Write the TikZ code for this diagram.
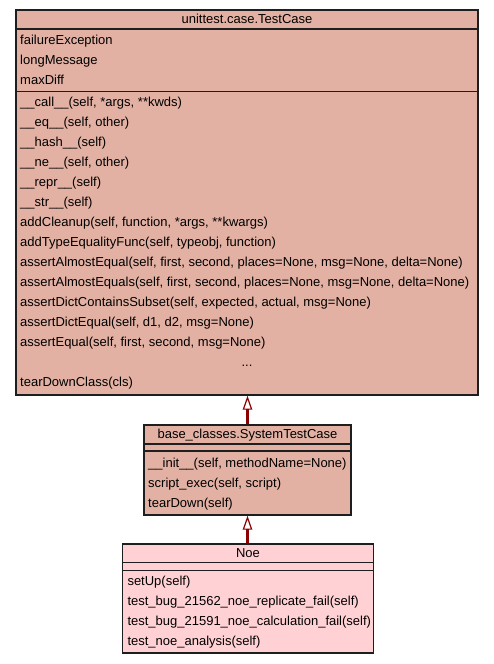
\documentclass[tikz,border=0pt]{standalone}
\usepackage{fontspec}
\setmainfont{Liberation Sans}
\usetikzlibrary{arrows.meta}

\definecolor{basefill}{RGB}{227,177,163}
\definecolor{leaffill}{RGB}{255,209,212}
\definecolor{inheritred}{RGB}{139,0,0}
\definecolor{edgegrey}{RGB}{30,30,30}

\tikzset{
  classbox/.style={draw=edgegrey,line width=1.4pt,rectangle,inner sep=0pt},
  member/.style={anchor=base west,inner sep=0pt,font=\fontsize{13}{15}\selectfont},
  classname/.style={anchor=base,inner sep=0pt,font=\fontsize{13}{15}\selectfont},
  inherit/.style={draw=inheritred,line width=3pt,
    -{Triangle[open,length=14pt,width=9.5pt,line width=1.2pt]}}
}

\begin{document}
\begin{tikzpicture}[x=1pt,y=-1pt]
			\useasboundingbox (0,0) rectangle (493,664);
			% unittest.case.TestCase
			\node[classbox,fill=basefill,minimum width=462pt,minimum height=385pt] (testcase) at (247,202.5){};
			\draw[edgegrey,line width=1.4pt] (testcase.west |- 0,29) -- (testcase.east |- 0,29);
			\draw[edgegrey,line width=1.4pt] (testcase.west |- 0,91.5) -- (testcase.east |- 0,91.5);
			\node[classname] (tc-name) at (247,23.5){unittest.case.TestCase};
			\node[member] (tc-a1) at (20,44){failureException};
			\node[member] (tc-a2) at (20,64){longMessage};
			\node[member] (tc-a3) at (20,84){maxDiff};
			\node[member] (tc-m1) at (20,106){\_\_call\_\_(self, *args, **kwds)};
			\node[member] (tc-m2) at (20,126){\_\_eq\_\_(self, other)};
			\node[member] (tc-m3) at (20,146){\_\_hash\_\_(self)};
			\node[member] (tc-m4) at (20,166){\_\_ne\_\_(self, other)};
			\node[member] (tc-m5) at (20,186){\_\_repr\_\_(self)};
			\node[member] (tc-m6) at (20,206){\_\_str\_\_(self)};
			\node[member] (tc-m7) at (20,226){addCleanup(self, function, *args, **kwargs)};
			\node[member] (tc-m8) at (20,246){addTypeEqualityFunc(self, typeobj, function)};
			\node[member] (tc-m9) at (20,266){assertAlmostEqual(self, first, second, places=None, msg=None, delta=None)};
			\node[member] (tc-m10) at (20,286){assertAlmostEquals(self, first, second, places=None, msg=None, delta=None)};
			\node[member] (tc-m11) at (20,306){assertDictContainsSubset(self, expected, actual, msg=None)};
			\node[member] (tc-m12) at (20,326){assertDictEqual(self, d1, d2, msg=None)};
			\node[member] (tc-m13) at (20,346){assertEqual(self, first, second, msg=None)};
			\node[classname] (tc-more) at (247,366){...};
			\node[member] (tc-m14) at (20,386){tearDownClass(cls)};
			% base_classes.SystemTestCase
			\node[classbox,fill=basefill,minimum width=207pt,minimum height=90pt] (systest) at (247.5,470){};
			\draw[edgegrey,line width=1.4pt] (systest.west |- 0,444) -- (systest.east |- 0,444);
			\draw[edgegrey,line width=1.4pt] (systest.west |- 0,451) -- (systest.east |- 0,451);
			\node[classname] (st-name) at (247.5,438.7){base\_classes.SystemTestCase};
			\node[member] (st-m1) at (148,467.7){\_\_init\_\_(self, methodName=None)};
			\node[member] (st-m2) at (148,487.7){script\_exec(self, script)};
			\node[member] (st-m3) at (148,507.7){tearDown(self)};
			% Noe
			\node[classbox,fill=leaffill,minimum width=250.5pt,minimum height=109pt] (noe) at (248,598.5){};
			\draw[edgegrey,line width=1.4pt] (noe.west |- 0,562.7) -- (noe.east |- 0,562.7);
			\draw[edgegrey,line width=1.4pt] (noe.west |- 0,570.3) -- (noe.east |- 0,570.3);
			\node[classname] (noe-name) at (248,557.3){Noe};
			\node[member] (noe-m1) at (127.3,585){setUp(self)};
			\node[member] (noe-m2) at (127.3,605){test\_bug\_21562\_noe\_replicate\_fail(self)};
			\node[member] (noe-m3) at (127.3,625){test\_bug\_21591\_noe\_calculation\_fail(self)};
			\node[member] (noe-m4) at (127.3,645){test\_noe\_analysis(self)};
			% inheritance
			\draw[inherit] (systest.north -| 247.5,0) -- (testcase.south -| 247.5,0);
			\draw[inherit] (noe.north -| 247.5,0) -- (systest.south -| 247.5,0);
		\end{tikzpicture}
\end{document}
